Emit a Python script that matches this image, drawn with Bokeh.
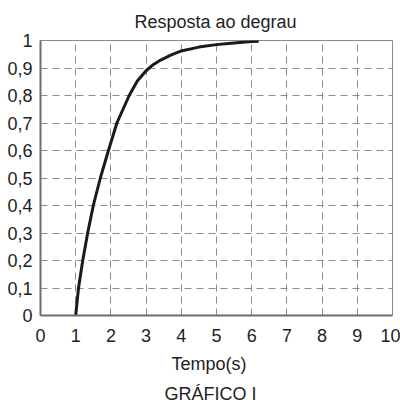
from bokeh.plotting import figure
from bokeh.models import Range1d, Title, FixedTicker
from bokeh.embed import file_html
from bokeh.resources import INLINE

# data
tempo = [1.0, 1.08, 1.2, 1.34, 1.5, 1.7, 1.93, 2.17, 2.52, 2.75, 3.0, 3.2, 3.4, 3.7, 4.0, 4.5, 5.0, 5.5, 6.0, 6.2]
resposta = [0.0, 0.1, 0.2, 0.3, 0.4, 0.5, 0.6, 0.7, 0.8, 0.853, 0.89, 0.912, 0.928, 0.947, 0.962, 0.976, 0.985, 0.991, 0.996, 0.997]

x_ticks = [0, 1, 2, 3, 4, 5, 6, 7, 8, 9, 10]
y_ticks = [0, 0.1, 0.2, 0.3, 0.4, 0.5, 0.6, 0.7, 0.8, 0.9, 1.0]
y_tick_labels = ["0", "0,1", "0,2", "0,3", "0,4", "0,5", "0,6", "0,7", "0,8", "0,9", "1"]

titulo = "Resposta ao degrau"
rotulo_x = "Tempo(s)"
legenda = "GRÁFICO I"

FONT = "Liberation Sans"
FS = "18px"
TXT = "#1e1e1e"

p = figure(width=400, height=405, output_backend="svg", toolbar_location=None,
           x_range=Range1d(0, 10), y_range=Range1d(0, 1),
           min_border_left=40, min_border_right=8, min_border_top=37, min_border_bottom=90)
p.background_fill_color = "white"
p.border_fill_color = "white"
p.outline_line_color = "#8a8a8a"
p.outline_line_width = 1

p.title.text = titulo
p.title.align = "left"
p.title.offset = 94
p.title.standoff = 18
p.title.text_font = FONT
p.title.text_font_size = FS
p.title.text_font_style = "normal"
p.title.text_color = TXT

for ax in (p.xaxis[0], p.yaxis[0]):
    ax.axis_line_color = "#6e6e6e"
    ax.axis_line_width = 2
    ax.major_tick_line_color = None
    ax.minor_tick_line_color = None
    ax.major_tick_out = 0
    ax.major_tick_in = 0
    ax.major_label_text_font = FONT
    ax.major_label_text_font_size = FS
    ax.major_label_text_color = TXT

p.xaxis[0].ticker = FixedTicker(ticks=x_ticks)
p.yaxis[0].ticker = FixedTicker(ticks=y_ticks)
p.yaxis[0].major_label_overrides = {v: s for v, s in zip(y_ticks, y_tick_labels)}
p.xaxis[0].major_label_standoff = 13
p.yaxis[0].major_label_standoff = 8

p.xgrid.ticker = FixedTicker(ticks=x_ticks)
p.ygrid.ticker = FixedTicker(ticks=y_ticks)
for g in (p.xgrid[0], p.ygrid[0]):
    g.grid_line_color = "#8a8a8a"
    g.grid_line_dash = "7 5"
    g.grid_line_width = 1

p.line(tempo, resposta, line_color="#1a1a1a", line_width=3)

p.add_layout(Title(text=rotulo_x, align="left", offset=131, standoff=14,
                   text_font=FONT, text_font_size=FS, text_font_style="normal", text_color=TXT), "below")
p.add_layout(Title(text=legenda, align="left", offset=124, standoff=3,
                   text_font=FONT, text_font_size=FS, text_font_style="normal", text_color=TXT), "below")

open("out.html", "w").write(file_html(p, INLINE))
